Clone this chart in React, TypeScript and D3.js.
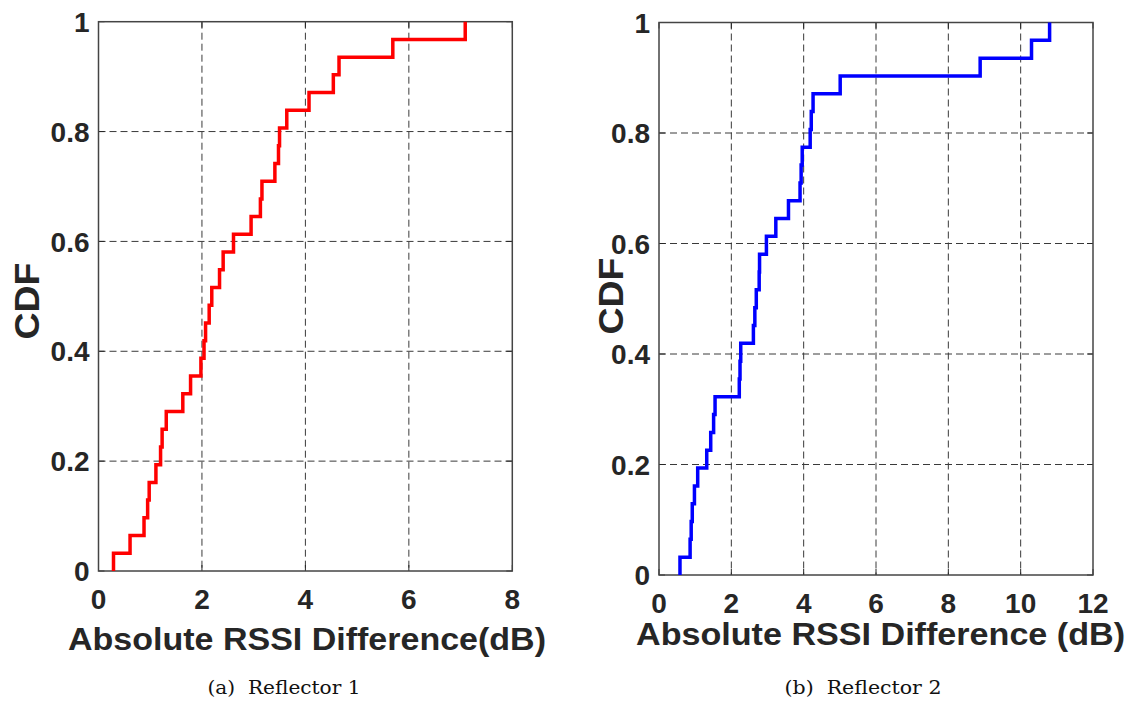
import React from "react";
import * as d3 from "d3";

// Sorted absolute RSSI differences (dB), one value per measurement
const reflector1Diff = [
  0.29, 0.61, 0.88, 0.95, 0.98, 1.11, 1.2, 1.23, 1.31, 1.63, 1.78, 1.98, 2.04,
  2.07, 2.14, 2.19, 2.34, 2.41, 2.61, 2.95, 3.13, 3.16, 3.41, 3.48, 3.5, 3.64,
  4.07, 4.54, 4.65, 5.69, 7.09,
];
const reflector2Diff = [
  0.58, 0.86, 0.89, 0.92, 0.98, 1.07, 1.32, 1.43, 1.51, 1.55, 2.22, 2.24, 2.26,
  2.61, 2.65, 2.69, 2.77, 2.78, 2.97, 3.23, 3.58, 3.9, 3.93, 3.96, 4.18, 4.21,
  4.26, 5.01, 8.88, 10.3, 10.8,
];

const xTicks1 = [0, 2, 4, 6, 8];
const xTicks2 = [0, 2, 4, 6, 8, 10, 12];
const yTicks = [0, 0.2, 0.4, 0.6, 0.8, 1];
const yTickLabels = ["0", "0.2", "0.4", "0.6", "0.8", "1"];

const FONT = "'Liberation Sans', Arial, Helvetica, sans-serif";
const TEXT = "#262626";

type PanelProps = {
  values: number[];
  xMax: number;
  xTicks: number[];
  color: string;
  box: { left: number; right: number; top: number; bottom: number };
  xLabel: string;
  xLabelPos: { x: number; y: number; len: number };
  yLabelPos: { x: number; y: number };
  caption: string;
  captionPos: { x: number; y: number; len: number };
};

function CdfPanel(p: PanelProps) {
  const { box } = p;
  const x = d3.scaleLinear().domain([0, p.xMax]).range([box.left, box.right]);
  const y = d3.scaleLinear().domain([0, 1]).range([box.bottom, box.top]);
  const n = p.values.length;
  const pts: [number, number][] = [[p.values[0], 0]];
  p.values.forEach((v, i) => pts.push([v, (i + 1) / n]));
  const line = d3
    .line<[number, number]>()
    .x((d) => x(d[0]))
    .y((d) => y(d[1]))
    .curve(d3.curveStepAfter);

  const gridColor = "#3a3a3a";
  const tickLen = 6;

  return (
    <g>
      {/* grid */}
      {p.xTicks.slice(1, -1).map((t) => (
        <line
          key={"gx" + t}
          x1={x(t)}
          x2={x(t)}
          y1={box.top}
          y2={box.bottom}
          stroke={gridColor}
          strokeWidth={1}
          strokeDasharray="7,4"
        />
      ))}
      {yTicks.slice(1, -1).map((t) => (
        <line
          key={"gy" + t}
          x1={box.left}
          x2={box.right}
          y1={y(t)}
          y2={y(t)}
          stroke={gridColor}
          strokeWidth={1}
          strokeDasharray="7,4"
        />
      ))}
      {/* tick marks on all four sides */}
      {p.xTicks.map((t) => (
        <g key={"tx" + t}>
          <line x1={x(t)} x2={x(t)} y1={box.bottom} y2={box.bottom - tickLen} stroke={TEXT} />
          <line x1={x(t)} x2={x(t)} y1={box.top} y2={box.top + tickLen} stroke={TEXT} />
        </g>
      ))}
      {yTicks.map((t) => (
        <g key={"ty" + t}>
          <line x1={box.left} x2={box.left + tickLen} y1={y(t)} y2={y(t)} stroke={TEXT} />
          <line x1={box.right} x2={box.right - tickLen} y1={y(t)} y2={y(t)} stroke={TEXT} />
        </g>
      ))}
      {/* axes box */}
      <rect
        x={box.left}
        y={box.top}
        width={box.right - box.left}
        height={box.bottom - box.top}
        fill="none"
        stroke="#444"
        strokeWidth={1.5}
      />
      {/* CDF */}
      <path d={line(pts) ?? ""} fill="none" stroke={p.color} strokeWidth={3.5} />
      {/* tick labels */}
      {p.xTicks.map((t) => (
        <text
          key={"lx" + t}
          x={x(t)}
          y={box.bottom + 38}
          textAnchor="middle"
          fontFamily={FONT}
          fontWeight="bold"
          fontSize={28}
          fill={TEXT}
        >
          {t}
        </text>
      ))}
      {yTicks.map((t, i) => (
        <text
          key={"ly" + t}
          x={box.left - 9}
          y={y(t)}
          dy="0.36em"
          textAnchor="end"
          fontFamily={FONT}
          fontWeight="bold"
          fontSize={28}
          fill={TEXT}
        >
          {yTickLabels[i]}
        </text>
      ))}
      {/* axis titles */}
      <text
        x={p.xLabelPos.x}
        y={p.xLabelPos.y}
        textAnchor="middle"
        fontFamily={FONT}
        fontWeight="bold"
        fontSize={31}
        fill={TEXT}
        textLength={p.xLabelPos.len}
        lengthAdjust="spacingAndGlyphs"
      >
        {p.xLabel}
      </text>
      <text
        transform={`translate(${p.yLabelPos.x},${p.yLabelPos.y}) rotate(-90)`}
        textAnchor="middle"
        dy="0.36em"
        fontFamily={FONT}
        fontWeight="bold"
        fontSize={35}
        fill={TEXT}
        textLength={77}
        lengthAdjust="spacingAndGlyphs"
      >
        CDF
      </text>
      {/* subfigure caption */}
      <text
        x={p.captionPos.x}
        y={p.captionPos.y}
        textAnchor="middle"
        fontFamily="'DejaVu Serif', 'Liberation Serif', serif"
        fontSize={19}
        fill="#111"
        textLength={p.captionPos.len}
        lengthAdjust="spacingAndGlyphs"
        style={{ whiteSpace: "pre" }}
      >
        {p.caption}
      </text>
    </g>
  );
}

export default function App() {
  return (
    <svg
      width={1131}
      height={701}
      style={{ position: "absolute", left: 0, top: 0, background: "#fff" }}
    >
      <rect width={1131} height={701} fill="#fff" />
      <CdfPanel
        values={reflector1Diff}
        xMax={8}
        xTicks={xTicks1}
        color="#ff0000"
        box={{ left: 98.5, right: 512.3, top: 21.7, bottom: 571 }}
        xLabel="Absolute RSSI Difference(dB)"
        xLabelPos={{ x: 307, y: 650, len: 478 }}
        yLabelPos={{ x: 26, y: 301 }}
        caption="(a)  Reflector 1"
        captionPos={{ x: 284, y: 694, len: 153 }}
      />
      <CdfPanel
        values={reflector2Diff}
        xMax={12}
        xTicks={xTicks2}
        color="#0000ff"
        box={{ left: 659, right: 1093, top: 22.5, bottom: 575 }}
        xLabel="Absolute RSSI Difference (dB)"
        xLabelPos={{ x: 880.5, y: 645, len: 489 }}
        yLabelPos={{ x: 610, y: 296 }}
        caption="(b)  Reflector 2"
        captionPos={{ x: 863, y: 694, len: 157 }}
      />
    </svg>
  );
}
